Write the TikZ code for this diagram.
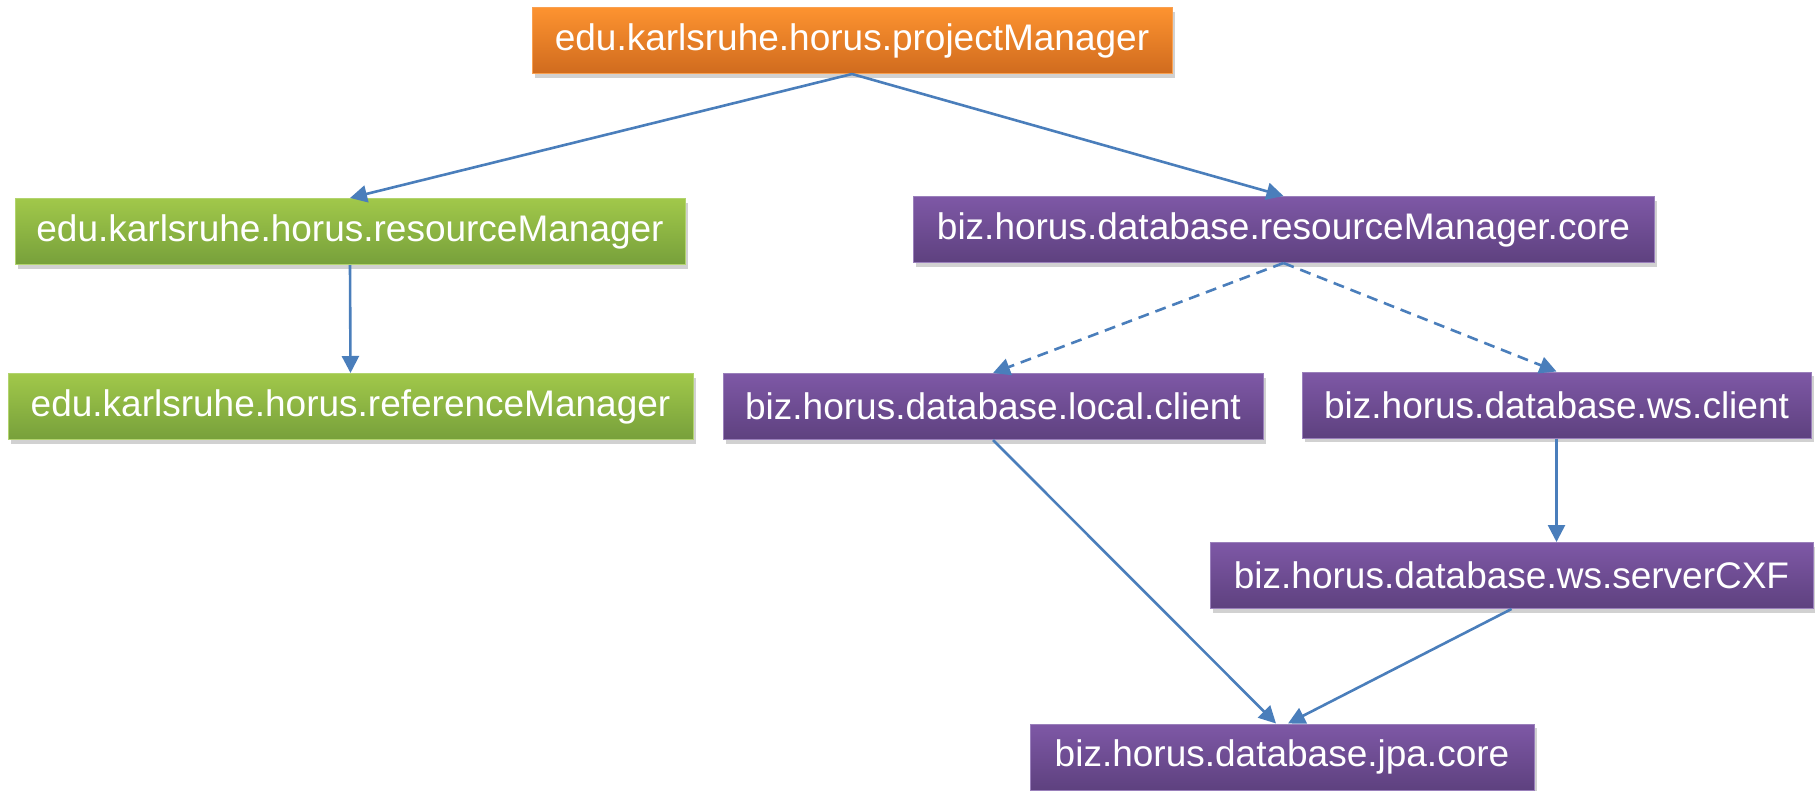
\documentclass[tikz,border=0pt]{standalone}
\usepackage{fontspec}
\setmainfont{Liberation Sans}
\usetikzlibrary{arrows.meta,shadows}
\definecolor{orTop}{HTML}{FD9330}
\definecolor{orBot}{HTML}{D06B1E}
\definecolor{orEdge}{HTML}{F9A050}
\definecolor{grTop}{HTML}{A1C84A}
\definecolor{grBot}{HTML}{77A03B}
\definecolor{grEdge}{HTML}{B2D46E}
\definecolor{puTop}{HTML}{7E58A6}
\definecolor{puBot}{HTML}{5E417F}
\definecolor{puEdge}{HTML}{9A80BB}
\definecolor{linkblue}{HTML}{4A7EBB}
\tikzset{
  pkg/.style={rectangle, inner sep=0pt, minimum height=66pt, text=white,
    font=\fontsize{37}{40}\selectfont, line width=1pt,
    drop shadow={shadow xshift=3pt, shadow yshift=-4pt, opacity=0.3, fill=black!60}},
  orangebox/.style={pkg, top color=orTop, bottom color=orBot, draw=orEdge},
  greenbox/.style={pkg, top color=grTop, bottom color=grBot, draw=grEdge},
  purplebox/.style={pkg, top color=puTop, bottom color=puBot, draw=puEdge},
  conn/.style={draw=linkblue, line width=2.6pt, -{Triangle[length=17pt,width=17pt]}},
  dconn/.style={conn, dash pattern=on 11pt off 7pt},
}
\begin{document}
\begin{tikzpicture}[x=1pt,y=-1pt]
\useasboundingbox (0,0) rectangle (1815,790);
\node[orangebox, minimum width=640pt] (pm) at (852,40.5) {edu.karlsruhe.horus.projectManager};
\node[greenbox, minimum width=670pt] (rm) at (350,231.5) {edu.karlsruhe.horus.resourceManager};
\node[greenbox, minimum width=685pt] (ref) at (350.5,406.5) {edu.karlsruhe.horus.referenceManager};
\node[purplebox, minimum width=741pt] (core) at (1283.5,229.5) {biz.horus.database.resourceManager.core};
\node[purplebox, minimum width=540pt] (local) at (993,406.5) {biz.horus.database.local.client};
\node[purplebox, minimum width=509pt] (wsc) at (1556.5,405) {biz.horus.database.ws.client};
\node[purplebox, minimum width=603pt] (cxf) at (1511.5,575.5) {biz.horus.database.ws.serverCXF};
\node[purplebox, minimum width=504pt] (jpa) at (1282,757) {biz.horus.database.jpa.core};
\draw[conn] (pm.south) -- (rm.north);
\draw[conn] (pm.south) -- (core.north);
\draw[conn] (rm.south) -- (ref.north);
\draw[dconn] (core.south) -- (local.north);
\draw[dconn] (core.south) -- (wsc.north);
\draw[conn] (local.south) -- ([xshift=-6pt]jpa.north);
\draw[conn] (wsc.south) -- (wsc.south |- cxf.north);
\draw[conn] (cxf.south) -- ([xshift=6pt]jpa.north);
\end{tikzpicture}
\end{document}
